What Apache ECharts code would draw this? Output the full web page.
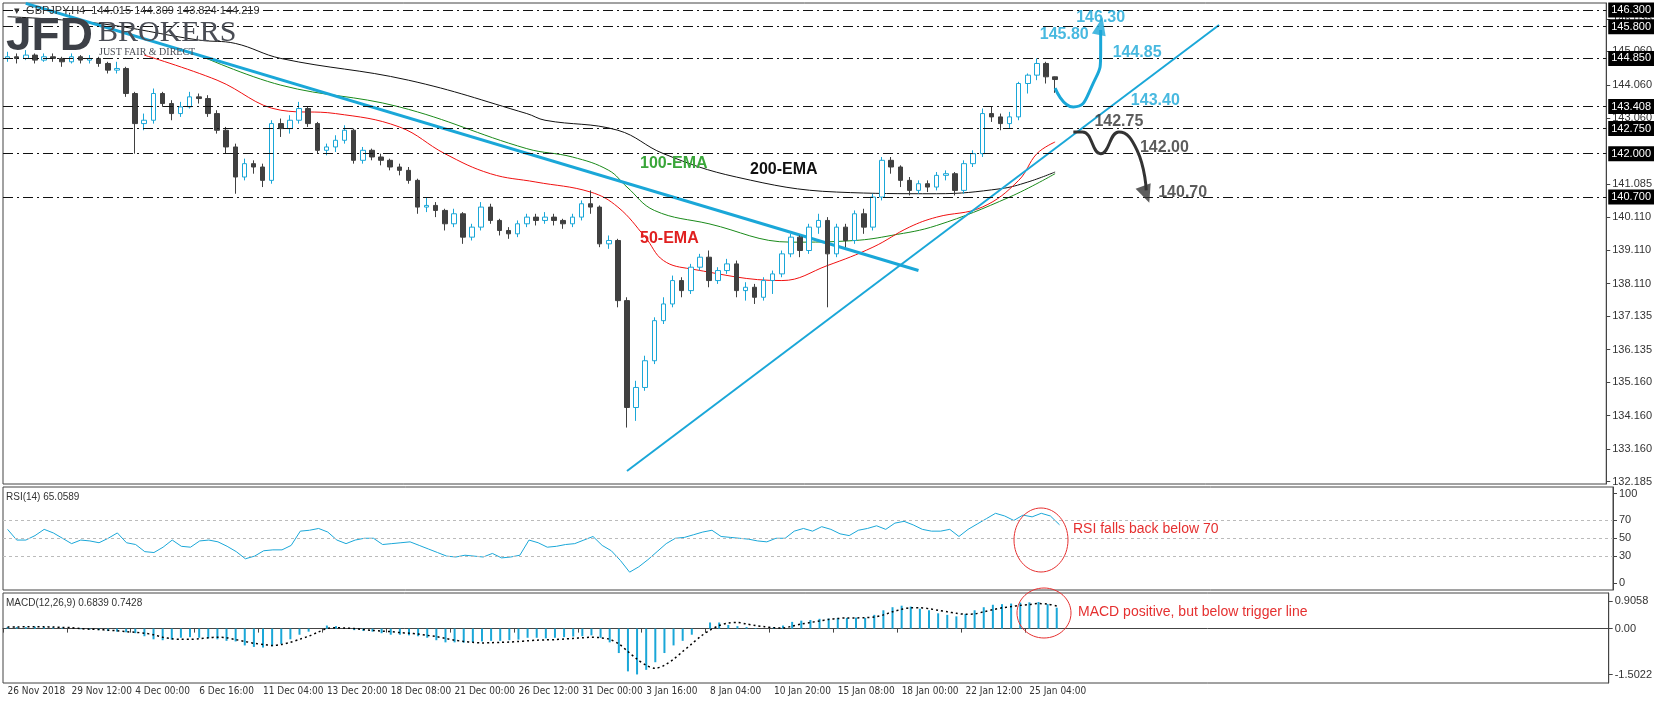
<!DOCTYPE html>
<html><head><meta charset="utf-8">
<script src="https://cdn.jsdelivr.net/npm/echarts@6/dist/echarts.min.js"></script>
<style>html,body{margin:0;padding:0;background:#fff}#c{width:1655px;height:704px}</style>
</head><body><div id="c"></div>
<script>
const dateLabels = ['26 Nov 2018','29 Nov 12:00','4 Dec 00:00','6 Dec 16:00','11 Dec 04:00','13 Dec 20:00','18 Dec 08:00','21 Dec 00:00','26 Dec 12:00','31 Dec 00:00','3 Jan 16:00','8 Jan 04:00','10 Jan 20:00','15 Jan 08:00','18 Jan 00:00','22 Jan 12:00','25 Jan 04:00'];
const firstOpen = 144.85;
const closes = [144.90,144.85,144.95,144.80,144.90,144.85,144.75,144.90,144.80,144.85,144.70,144.50,144.55,143.80,142.90,143.00,143.80,143.50,143.20,143.40,143.70,143.65,143.20,142.70,142.20,141.30,141.70,141.60,141.20,142.90,142.75,143.00,143.35,142.90,142.10,142.20,142.40,142.70,141.80,142.10,141.90,141.80,141.60,141.50,141.20,140.40,140.45,140.30,139.90,140.20,139.50,139.80,140.40,140.00,139.70,139.60,139.90,140.10,140.00,140.10,140.00,139.90,140.10,140.50,140.40,139.30,139.40,137.60,134.40,135.00,135.80,137.00,137.50,138.20,137.90,138.60,138.90,138.20,138.50,138.70,137.90,138.00,137.70,138.20,138.40,139.00,139.50,139.10,139.80,140.00,139.00,139.80,139.40,140.20,139.80,140.70,141.80,141.60,141.20,140.90,141.10,141.00,141.35,141.40,140.90,141.70,142.00,143.20,143.10,142.90,143.10,144.10,144.35,144.70,144.30,144.219];
const highs = [145.05,145.0,145.1,145.0,145.0,145.0,144.9,145.0,144.95,144.95,144.9,144.75,144.75,144.6,143.85,143.2,143.95,143.85,143.6,143.55,143.85,143.8,143.75,143.3,142.8,142.3,141.85,141.8,141.7,143.0,143.05,143.15,143.55,143.4,142.95,142.3,142.55,142.85,142.75,142.2,142.15,142.0,141.85,141.7,141.6,141.25,140.7,140.55,140.35,140.35,140.25,139.9,140.55,140.5,140.05,139.8,140.0,140.2,140.2,140.25,140.2,140.05,140.2,140.6,140.9,140.45,139.55,139.45,137.7,135.2,135.95,137.1,137.7,138.35,138.3,138.7,139.0,139.1,138.6,138.85,138.8,138.15,138.1,138.3,138.5,139.1,139.6,139.55,139.9,140.2,140.1,139.9,139.9,140.3,140.35,140.8,141.9,141.9,141.65,141.3,141.2,141.2,141.45,141.5,141.45,141.8,142.1,143.35,143.4,143.2,143.25,144.15,144.4,144.85,144.75,144.31];
const lows = [144.75,144.7,144.8,144.7,144.75,144.75,144.6,144.7,144.7,144.7,144.6,144.4,144.4,143.7,142.0,142.7,142.9,143.4,143.0,143.1,143.35,143.5,143.1,142.6,142.0,140.8,141.2,141.4,141.0,141.1,142.5,142.6,142.9,142.8,142.0,141.95,142.05,142.3,141.7,141.7,141.8,141.65,141.5,141.35,141.1,140.2,140.25,140.1,139.7,139.8,139.3,139.4,139.7,139.9,139.55,139.45,139.5,139.8,139.85,139.9,139.85,139.75,139.8,140.0,140.2,139.2,139.15,137.4,133.8,134.0,134.9,135.7,136.9,137.4,137.7,137.8,138.5,138.0,138.1,138.4,137.7,137.6,137.5,137.6,137.8,138.3,138.9,138.9,139.0,139.6,137.4,138.9,139.2,139.3,139.6,139.7,140.6,141.4,141.0,140.75,140.8,140.85,140.9,141.2,140.75,140.8,141.6,141.9,142.95,142.7,142.75,143.0,143.8,144.2,144.1,143.82];
const ema200 = [[0,146.1],[10,145.9],[21,145.4],[25,145.3],[30,144.85],[44,144.2],[57,143.2],[59,143.0],[67,142.7],[72,142.0],[80,141.3],[91,140.85],[102,140.8],[109,140.95],[112,141.15],[115,141.45]];
const ema100 = [[21,144.95],[30,144.05],[43,143.4],[57,142.15],[62,141.9],[66,141.5],[68,141.0],[71,140.3],[77,139.9],[86,139.35],[93,139.4],[97,139.55],[102,139.85],[110,140.7],[115,141.4]];
const ema50 = [[15,144.95],[23,144.2],[30,143.3],[36,143.2],[43,142.8],[48,142.0],[53,141.4],[58,141.15],[64,140.85],[67,140.4],[70,139.5],[72,138.8],[75,138.55],[85,138.2],[90,138.65],[95,139.2],[99,139.8],[102,140.1],[107,140.4],[111,141.2],[113,142.0],[115,142.35]];
const downTrend = [[2,146.5],[100,138.5]];
const upTrend = [[68,132.5],[133,145.85]];
const levels = [146.30,145.80,144.85,143.408,142.75,142.00,140.70];
const levelLabels = ['146.300','145.800','144.850','143.408','142.750','142.000','140.700'];
const priceTicks = [146.035,145.06,144.06,143.06,141.085,140.11,139.11,138.11,137.135,136.135,135.16,134.16,133.16,132.185];
const lastPrice = 144.219;
const rsi = [60,48,48,53,60,56,50,44,48,47,45,50,56,45,43,35,34,40,48,41,40,47,48,46,41,35,27,30,36,37,37,42,58,59,61,57,48,44,48,50,50,43,44,45,46,42,38,34,30,29,31,30,29,33,28,29,31,48,45,40,41,43,44,48,52,42,36,25,12,18,26,35,44,50,51,54,57,59,52,51,50,49,47,46,50,50,58,61,58,63,60,55,53,59,61,64,60,67,69,65,60,58,58,60,52,60,66,72,78,75,70,76,74,78,75,65.06];
const macdHist = [0.05,0.05,0.05,0.06,0.05,0.04,0.03,0.0,-0.02,-0.03,-0.05,-0.08,-0.1,-0.12,-0.15,-0.25,-0.35,-0.38,-0.36,-0.3,-0.28,-0.3,-0.32,-0.35,-0.4,-0.42,-0.55,-0.6,-0.62,-0.58,-0.5,-0.35,-0.2,-0.1,0.0,0.1,0.08,0.0,-0.05,-0.08,-0.1,-0.15,-0.2,-0.2,-0.22,-0.25,-0.3,-0.38,-0.45,-0.45,-0.46,-0.44,-0.42,-0.4,-0.4,-0.38,-0.36,-0.3,-0.3,-0.32,-0.3,-0.28,-0.26,-0.25,-0.22,-0.3,-0.45,-0.8,-1.4,-1.5,-1.35,-1.1,-0.8,-0.55,-0.4,-0.2,0.0,0.2,0.2,0.12,0.08,0.05,0.02,0.0,0.05,0.1,0.22,0.26,0.28,0.32,0.33,0.35,0.35,0.36,0.35,0.45,0.6,0.7,0.75,0.72,0.65,0.6,0.5,0.45,0.4,0.48,0.6,0.7,0.78,0.8,0.82,0.85,0.86,0.87,0.8,0.6839];
const macdSignal = [0.05,0.05,0.06,0.06,0.06,0.05,0.04,0.03,0.0,-0.02,-0.03,-0.05,-0.07,-0.1,-0.12,-0.15,-0.2,-0.28,-0.33,-0.35,-0.35,-0.33,-0.3,-0.28,-0.3,-0.36,-0.42,-0.48,-0.52,-0.55,-0.52,-0.45,-0.35,-0.25,-0.12,0.0,0.03,0.02,0.0,-0.03,-0.06,-0.08,-0.1,-0.13,-0.15,-0.18,-0.22,-0.26,-0.32,-0.38,-0.42,-0.45,-0.47,-0.46,-0.45,-0.44,-0.42,-0.4,-0.38,-0.37,-0.36,-0.34,-0.32,-0.3,-0.28,-0.3,-0.35,-0.5,-0.75,-1.0,-1.2,-1.3,-1.2,-1.0,-0.75,-0.5,-0.25,-0.05,0.1,0.18,0.2,0.15,0.1,0.06,0.03,0.02,0.08,0.15,0.2,0.25,0.3,0.33,0.35,0.35,0.36,0.38,0.45,0.55,0.63,0.68,0.68,0.65,0.6,0.55,0.5,0.47,0.48,0.55,0.62,0.68,0.72,0.76,0.79,0.82,0.8,0.7428];
const blueArrow = [[115.4,143.96],[117.2,143.4],[118.6,144.0],[119.7,145.1],[120.2,145.7]];
const darkArrow = [[116.7,142.65],[118,142.65],[119.7,142.0],[121.8,142.65],[123.5,142.1],[124.8,140.9]];
const levelTexts = [['146.30',119.6,146.06,'#1aa7d8'],['145.80',116.3,145.55,'#1aa7d8'],['144.85',124.0,145.04,'#1aa7d8'],['143.40',126.2,143.6,'#1aa7d8'],['142.75',122.3,142.95,'#333'],['142.00',126.6,142.17,'#333'],['140.70',128.6,140.82,'#333']];

const N = 176;
const cats = [];
for (let i = 0; i < N; i++) cats.push(i % 7 === 0 && i / 7 < dateLabels.length ? dateLabels[i / 7] : '');
const ohlc = closes.map((c, i) => [i === 0 ? firstOpen : closes[i - 1], c, lows[i], highs[i]]);
const BLUE = '#1aa7d8';
const grids = [
  {left: 3, right: 42, top: 3, height: 481, show: true, borderColor: '#444', borderWidth: 1},
  {left: 3, right: 42, top: 487, height: 103, show: true, borderColor: '#444', borderWidth: 1},
  {left: 3, right: 42, top: 593, height: 90, show: true, borderColor: '#444', borderWidth: 1}
];
function xa(i, show) {
  return {type: 'category', gridIndex: i, data: cats, boundaryGap: true,
    axisLine: {show: show, lineStyle: {color: '#444'}},
    axisTick: {show: show, interval: (idx) => cats[idx] !== '', length: 4, lineStyle: {color: '#444'}},
    axisLabel: {show: show, interval: 0, align: 'left', fontSize: 10, color: '#333', fontFamily: 'Liberation Sans Narrow, DejaVu Sans Condensed, Roboto Condensed, sans-serif', margin: 3},
    splitLine: {show: false}};
}
const yLab = {fontSize: 11, color: '#333', fontFamily: 'Liberation Sans, sans-serif', margin: 6};
const option = {
  animation: false,
  grid: grids,
  xAxis: [xa(0, false), xa(1, false), xa(2, true)],
  yAxis: [
    {type: 'value', gridIndex: 0, position: 'right', min: 132.11, max: 146.51, splitLine: {show: false},
     axisLine: {show: true, lineStyle: {color: '#444'}},
     axisTick: {show: true, customValues: priceTicks, length: 4}, axisLabel: Object.assign({customValues: priceTicks, formatter: v => v.toFixed(3)}, yLab)},
    {type: 'value', gridIndex: 1, position: 'right', min: -8, max: 107.5, splitLine: {show: false},
     axisLine: {show: true, lineStyle: {color: '#444'}},
     axisTick: {show: true, customValues: [100, 70, 50, 30, 0], length: 4}, axisLabel: Object.assign({customValues: [100, 70, 50, 30, 0]}, yLab)},
    {type: 'value', gridIndex: 2, position: 'right', min: -1.78, max: 1.165, splitLine: {show: false},
     axisLine: {show: true, lineStyle: {color: '#444'}},
     axisTick: {show: true, customValues: [0.9058, 0, -1.5022], length: 4}, axisLabel: Object.assign({customValues: [0.9058, 0, -1.5022], formatter: v => v === 0 ? '0.00' : v.toFixed(4)}, yLab)}
  ],
  series: [
    {type: 'line', data: ema200, smooth: 0.4, symbol: 'none', lineStyle: {color: '#111', width: 1}, z: 2},
    {type: 'line', data: ema100, smooth: 0.4, symbol: 'none', lineStyle: {color: '#1a8a1a', width: 1}, z: 2},
    {type: 'line', data: ema50, smooth: 0.4, symbol: 'none', lineStyle: {color: '#f01010', width: 1}, z: 2},
    {type: 'line', data: downTrend, symbol: 'none', lineStyle: {color: BLUE, width: 3}, z: 3},
    {type: 'line', data: upTrend, symbol: 'none', lineStyle: {color: BLUE, width: 2}, z: 3},
    {type: 'candlestick', data: ohlc, barWidth: 5, z: 4,
     itemStyle: {color: '#ffffff', color0: '#404040', borderColor: BLUE, borderColor0: '#404040', borderWidth: 1},
     markLine: {silent: true, symbol: 'none', animation: false,
       lineStyle: {color: '#111', type: [10, 4, 2, 4], width: 1},
       label: {position: 'end', backgroundColor: '#000', color: '#fff', fontSize: 11, padding: [2, 3], distance: 2, fontFamily: 'Liberation Sans, sans-serif'},
       data: levels.map((v, i) => ({yAxis: v, label: {formatter: levelLabels[i]}})).concat([{yAxis: lastPrice, lineStyle: {opacity: 0}, label: {backgroundColor: '#444', formatter: '144.219'}}])}},
    {type: 'line', data: blueArrow, smooth: 0.6, symbol: 'none', lineStyle: {color: BLUE, width: 3}, z: 5},
    {type: 'scatter', data: [blueArrow[blueArrow.length - 1]], symbol: 'triangle', symbolSize: [14, 18], symbolRotate: -12, symbolOffset: [0, -4], itemStyle: {color: BLUE}, z: 5},
    {type: 'line', data: darkArrow, smooth: 0.5, symbol: 'none', lineStyle: {color: '#333', width: 3}, z: 5},
    {type: 'scatter', data: [darkArrow[darkArrow.length - 1]], symbol: 'triangle', symbolSize: [16, 18], symbolRotate: 200, symbolOffset: [0, 4], itemStyle: {color: '#333'}, z: 5},
    {type: 'scatter', symbolSize: 0, z: 6,
     data: levelTexts.map(t => ({value: [t[1], t[2]], label: {show: true, formatter: t[0], color: t[3]}})),
     label: {show: true, position: 'inside', fontSize: 16, fontWeight: 'bold', fontFamily: 'Liberation Sans, sans-serif'}},
    {type: 'line', xAxisIndex: 1, yAxisIndex: 1, data: rsi, symbol: 'none', lineStyle: {color: BLUE, width: 1},
     markLine: {silent: true, symbol: 'none', label: {show: false}, lineStyle: {color: '#bbb', type: [3, 3], width: 1}, data: [{yAxis: 70}, {yAxis: 50}, {yAxis: 30}]}},
    {type: 'bar', xAxisIndex: 2, yAxisIndex: 2, data: macdHist, barWidth: 2, itemStyle: {color: BLUE}},
    {type: 'line', xAxisIndex: 2, yAxisIndex: 2, data: macdSignal, symbol: 'none', smooth: 0.3, lineStyle: {color: '#000', width: 1.5, type: [2, 3]}}
  ],
  graphic: [
    {type: 'text', left: 14, top: 5, style: {text: '▾  GBPJPY,H4  144.015 144.309 143.824 144.219', fill: '#333', font: '11px Liberation Sans'}, z: 10},
    {type: 'text', left: 6, top: 14, style: {text: 'JFD', font: 'bold 46px Liberation Sans', fill: '#3d4047'}, z: 10},
    {type: 'rect', left: 88, top: 28, shape: {width: 2, height: 12}, style: {fill: '#3d4047'}, z: 10},
    {type: 'text', left: 98, top: 18, style: {text: 'BROKERS', font: '30px Liberation Serif', fill: '#4a4d55'}, z: 10},
    {type: 'text', left: 99, top: 47, style: {text: 'JUST FAIR & DIRECT', font: '10px Liberation Serif', fill: '#4a4d55'}, z: 10},
    {type: 'text', left: 640, top: 156, style: {text: '100-EMA', font: 'bold 16px Liberation Sans', fill: '#3aa63a'}, z: 10},
    {type: 'text', left: 640, top: 231, style: {text: '50-EMA', font: 'bold 16px Liberation Sans', fill: '#e02020'}, z: 10},
    {type: 'text', left: 750, top: 162, style: {text: '200-EMA', font: 'bold 16px Liberation Sans', fill: '#111'}, z: 10},
    {type: 'text', left: 6, top: 492, style: {text: 'RSI(14) 65.0589', font: '10px Liberation Sans', fill: '#333'}, z: 10},
    {type: 'text', left: 6, top: 598, style: {text: 'MACD(12,26,9) 0.6839 0.7428', font: '10px Liberation Sans', fill: '#333'}, z: 10},
    {type: 'ellipse', shape: {cx: 1041, cy: 540, rx: 27, ry: 32}, style: {fill: 'none', stroke: '#e53030', lineWidth: 1}, z: 10},
    {type: 'ellipse', shape: {cx: 1044, cy: 613, rx: 27, ry: 25}, style: {fill: 'none', stroke: '#e53030', lineWidth: 1}, z: 10},
    {type: 'text', left: 1073, top: 522, style: {text: 'RSI falls back below 70', font: '14px Liberation Sans', fill: '#e53030'}, z: 10},
    {type: 'text', left: 1078, top: 605, style: {text: 'MACD positive, but below trigger line', font: '14px Liberation Sans', fill: '#e53030'}, z: 10}
  ]
};
const chart = echarts.init(document.getElementById('c'));
chart.setOption(option);
</script></body></html>
